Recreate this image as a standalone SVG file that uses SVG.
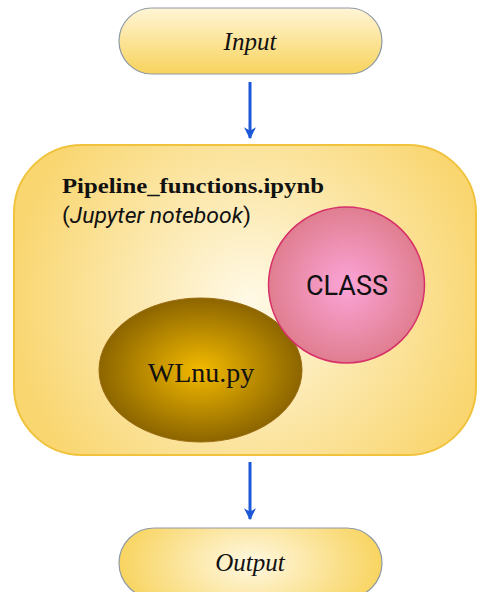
<svg xmlns="http://www.w3.org/2000/svg" width="478" height="592" viewBox="0 0 478 592">
<defs>
<linearGradient id="gIn" x1="0" y1="0" x2="0" y2="1">
<stop offset="0" stop-color="#fff5d6"/>
<stop offset="1" stop-color="#f8d35c"/>
</linearGradient>
<radialGradient id="gOut" cx="0.5" cy="0.5" r="0.5" gradientTransform="translate(0.5 0.5) scale(1 2.2) translate(-0.5 -0.5)">
<stop offset="0" stop-color="#fff8e2"/>
<stop offset="1" stop-color="#f8d460"/>
</radialGradient>
<radialGradient id="gBox" cx="250" cy="300" r="240" gradientUnits="userSpaceOnUse">
<stop offset="0" stop-color="#fff9e6"/>
<stop offset="1" stop-color="#f9d670"/>
</radialGradient>
<radialGradient id="gClass" cx="0.5" cy="0.5" r="0.5">
<stop offset="0" stop-color="#fca4d8"/>
<stop offset="1" stop-color="#e07e90"/>
</radialGradient>
<radialGradient id="gWl" cx="0.5" cy="0.5" r="0.5">
<stop offset="0" stop-color="#f3ba00"/>
<stop offset="1" stop-color="#8c6500"/>
</radialGradient>
<marker id="ah" viewBox="0 0 10 10" refX="9" refY="5" markerWidth="4" markerHeight="4" orient="auto" markerUnits="strokeWidth">
<path d="M0,0 L10,5 L0,10 L3,5 Z" fill="#1b57d6"/>
</marker>
<style>
.pill{stroke:#8e9aa3;stroke-width:1.2}
.lbl{font-family:"Liberation Serif",serif;font-style:italic;font-size:25px;fill:#111;text-anchor:middle}
.conn{stroke:#1b57d6;stroke-width:3;fill:none;marker-end:url(#ah)}
</style>
</defs>
<g id="connectors">
<line class="conn" x1="250" y1="82" x2="250" y2="138"/>
<line class="conn" x1="250" y1="462" x2="250" y2="519"/>
</g>
<g id="input">
<rect class="pill" x="119" y="8" width="263" height="66" rx="33" fill="url(#gIn)"/>
<text class="lbl" x="250" y="50">Input</text>
</g>
<g id="pipeline">
<rect x="14" y="145" width="462" height="310" rx="68" fill="url(#gBox)" stroke="#f1c23c" stroke-width="2"/>
<text x="62" y="193" font-family="'Liberation Serif',serif" font-weight="bold" font-size="20" fill="#111" textLength="262" lengthAdjust="spacingAndGlyphs">Pipeline_functions.ipynb</text>
<text x="62" y="223" font-family="Roboto,'Liberation Sans',sans-serif" font-size="22" fill="#111" textLength="189" lengthAdjust="spacingAndGlyphs">(<tspan font-style="italic">Jupyter notebook</tspan>)</text>
</g>
<g id="wlnu">
<ellipse cx="200.5" cy="370" rx="101.5" ry="72" fill="url(#gWl)" stroke="#9a6a10" stroke-width="1"/>
<text x="201" y="382" font-family="'Liberation Serif',serif" font-size="28" fill="#111" text-anchor="middle">WLnu.py</text>
</g>
<g id="class">
<circle cx="346.5" cy="285" r="78" fill="url(#gClass)" stroke="#d8306a" stroke-width="1.5"/>
<text x="347" y="295" font-family="Roboto,'Liberation Sans',sans-serif" font-size="27" fill="#111" text-anchor="middle">CLASS</text>
</g>
<g id="output">
<rect class="pill" x="119" y="528" width="263" height="70" rx="35" fill="url(#gOut)"/>
<text class="lbl" x="250" y="571">Output</text>
</g>
</svg>
